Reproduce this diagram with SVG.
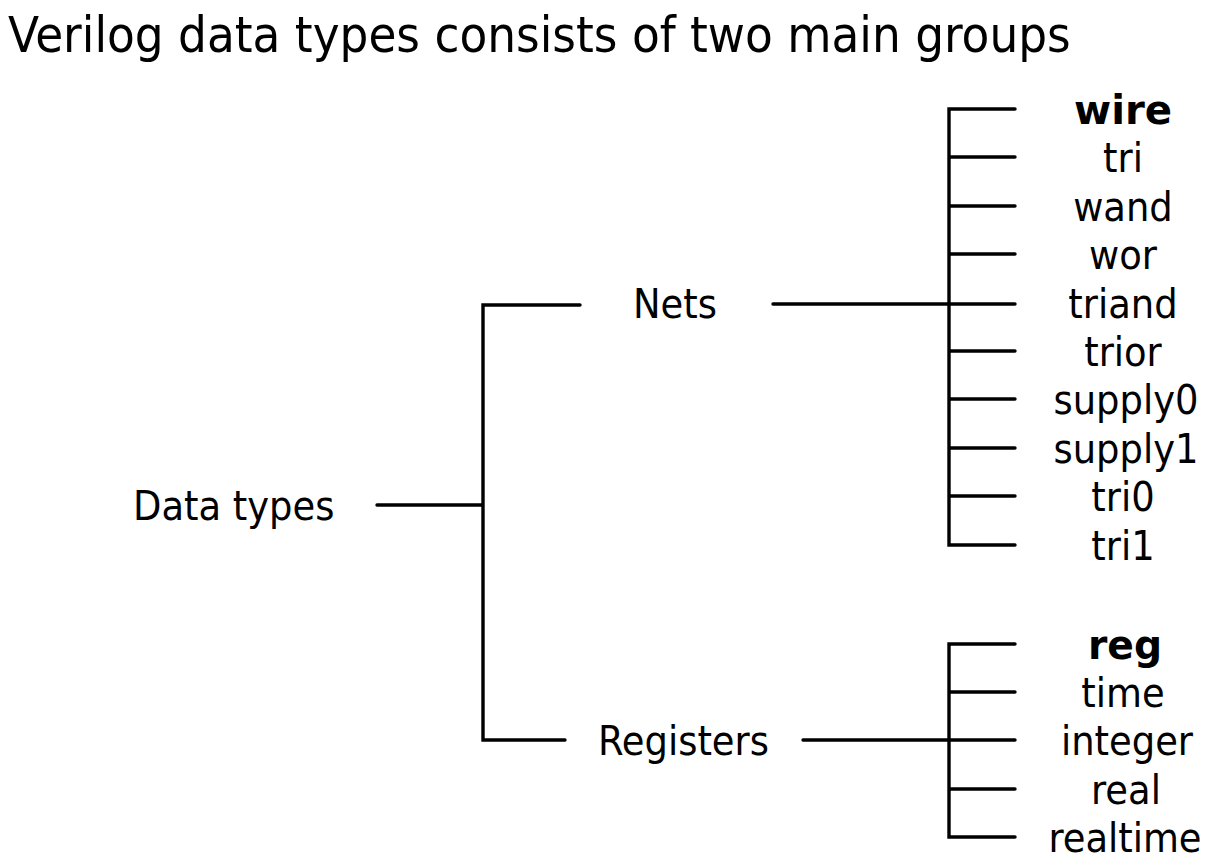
<svg xmlns="http://www.w3.org/2000/svg" width="1210" height="868" viewBox="0 0 1210 868">
<style>
text{font-family:"DejaVu Sans Condensed","DejaVu Sans",sans-serif;fill:#000}
.t{font-size:50.5px}
.n{font-size:41px}
.c{font-size:41px;text-anchor:middle}
.b{font-weight:bold}
.ln{stroke:#000;stroke-width:3.4;fill:none;stroke-linecap:round}
</style>
<rect width="1210" height="868" fill="#fff"/>
<text class="t" x="8" y="52">Verilog data types consists of two main groups</text>
<g id="connectors" class="ln">
<path d="M377 505H483M580 305H483V740H565"/>
<path d="M773 304H1015M1015 109H949V545H1015M949 157H1015M949 206H1015M949 254H1015M949 351H1015M949 399H1015M949 448H1015M949 496H1015"/>
<path d="M803 740H1015M1015 644H949V837H1015M949 692H1015M949 789H1015"/>
</g>
<g id="datatypes"><text class="n" x="133" y="520">Data types</text></g>
<g id="nets"><text class="n" x="633" y="318">Nets</text></g>
<g id="registers"><text class="n" x="598" y="755">Registers</text></g>
<g id="net-types">
<text class="c b" x="1123" y="124" textLength="98" lengthAdjust="spacingAndGlyphs">wire</text>
<text class="c" x="1123" y="172">tri</text>
<text class="c" x="1123" y="221">wand</text>
<text class="c" x="1123" y="269">wor</text>
<text class="c" x="1123" y="318">triand</text>
<text class="c" x="1123" y="366">trior</text>
<text class="c" x="1126" y="414">supply0</text>
<text class="c" x="1126" y="463">supply1</text>
<text class="c" x="1123" y="511">tri0</text>
<text class="c" x="1123" y="560">tri1</text>
</g>
<g id="register-types">
<text class="c b" x="1125" y="659" textLength="74" lengthAdjust="spacingAndGlyphs">reg</text>
<text class="c" x="1123" y="707">time</text>
<text class="c" x="1127" y="755">integer</text>
<text class="c" x="1126" y="804">real</text>
<text class="c" x="1125" y="852">realtime</text>
</g>
</svg>
